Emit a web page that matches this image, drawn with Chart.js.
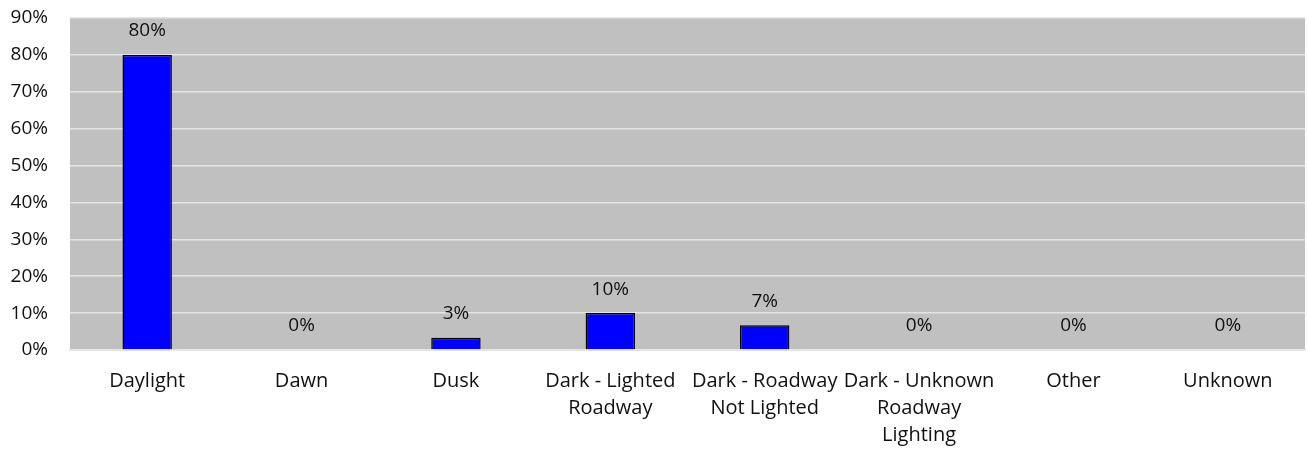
<!DOCTYPE html>
<html>
<head>
<meta charset="utf-8">
<script src="https://cdn.jsdelivr.net/npm/chart.js@4"></script>
<style>
  html, body { margin: 0; padding: 0; background: #fff; }
  #wrap { width: 1307px; height: 451px; }
</style>
</head>
<body>
<div id="wrap"><canvas id="lightChart"></canvas></div>
<script>
const categories = [
  "Daylight",
  "Dawn",
  "Dusk",
  ["Dark - Lighted", "Roadway"],
  ["Dark - Roadway", "Not Lighted"],
  ["Dark - Unknown", "Roadway", "Lighting"],
  "Other",
  "Unknown"
];
const shares = [80, 0, 3.3, 10, 6.7, 0, 0, 0];
const shareLabels = ["80%", "0%", "3%", "10%", "7%", "0%", "0%", "0%"];

const FONT = "'Open Sans', 'Liberation Sans', sans-serif";

// gray plot area behind the bars
const plotBackground = {
  id: "plotBackground",
  beforeDraw(chart) {
    const { ctx, chartArea } = chart;
    ctx.save();
    ctx.fillStyle = "#C0C0C0";
    ctx.fillRect(chartArea.left, chartArea.top, chartArea.right - chartArea.left, chartArea.bottom - chartArea.top);
    ctx.restore();
  }
};

// percentage labels above each bar
const valueLabels = {
  id: "valueLabels",
  afterDatasetsDraw(chart) {
    const { ctx } = chart;
    const meta = chart.getDatasetMeta(0);
    ctx.save();
    ctx.font = "19px " + FONT;
    ctx.fillStyle = "#111";
    ctx.textAlign = "center";
    ctx.textBaseline = "middle";
    meta.data.forEach((bar, i) => {
      ctx.fillText(shareLabels[i], bar.x, bar.y - 24);
    });
    ctx.restore();
  }
};

new Chart(document.getElementById("lightChart"), {
  type: "bar",
  data: {
    labels: categories,
    datasets: [{
      data: shares,
      backgroundColor: "#0000FF",
      borderColor: "#000",
      borderWidth: 1.5,
      categoryPercentage: 1,
      barPercentage: 0.32
    }]
  },
  options: {
    responsive: true,
    maintainAspectRatio: false,
    animation: false,
    layout: { padding: { top: 0, right: 2, left: 0, bottom: 0 } },
    plugins: {
      legend: { display: false },
      tooltip: { enabled: false }
    },
    scales: {
      x: {
        grid: { display: false },
        border: { display: true, color: "#E4E4E4", width: 2 },
        ticks: {
          color: "#111",
          font: { family: FONT, size: 20, lineHeight: 1.35 },
          padding: 10,
          maxRotation: 0,
          autoSkip: false
        },
        afterFit(scale) { scale.height = 101; }
      },
      y: {
        min: 0,
        max: 90,
        grid: { color: "#E4E4E4", lineWidth: 1.5, drawTicks: false },
        border: { display: false },
        ticks: {
          stepSize: 10,
          color: "#111",
          font: { family: FONT, size: 19 },
          padding: 22,
          callback: v => v + "%"
        },
        afterFit(scale) {
          scale.width = 70;
          scale.paddingTop = 18;
          scale.paddingBottom = 12;
        }
      }
    }
  },
  plugins: [plotBackground, valueLabels]
});
</script>
</body>
</html>
